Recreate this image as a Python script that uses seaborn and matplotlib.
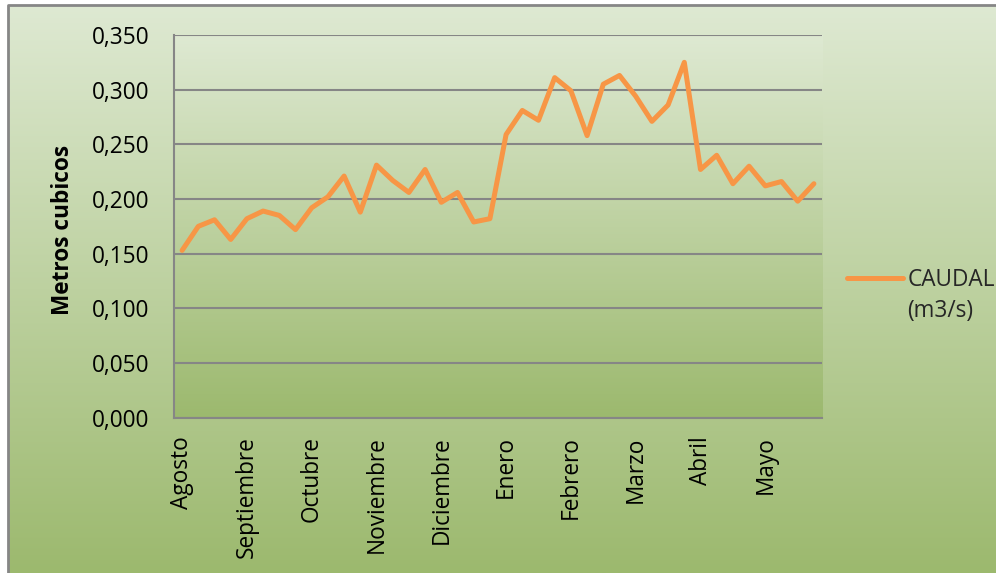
import numpy as np
import pandas as pd
import seaborn as sns
import matplotlib.pyplot as plt
from matplotlib.colors import LinearSegmentedColormap
from matplotlib.ticker import FuncFormatter

# caudal semanal (m3/s), agosto a mayo
caudal = [0.153, 0.175, 0.181, 0.163, 0.182, 0.189, 0.185, 0.172, 0.192, 0.202,
          0.221, 0.188, 0.231, 0.217, 0.206, 0.227, 0.197, 0.206, 0.179, 0.182,
          0.259, 0.281, 0.272, 0.311, 0.299, 0.258, 0.305, 0.313, 0.294, 0.271,
          0.286, 0.325, 0.227, 0.240, 0.214, 0.230, 0.212, 0.216, 0.198, 0.214]
meses = ['Agosto', 'Septiembre', 'Octubre', 'Noviembre', 'Diciembre',
         'Enero', 'Febrero', 'Marzo', 'Abril', 'Mayo']
semana = list(range(len(caudal)))
df = pd.DataFrame({'semana': semana, 'caudal': caudal})

sns.set_theme(style='white')
plt.rcParams['font.family'] = ['Open Sans', 'DejaVu Sans']
fs = 16.3

W, H = 996, 573
fig = plt.figure(figsize=(W / 100, H / 100), dpi=100)
fig.patch.set_facecolor('white')

verde = LinearSegmentedColormap.from_list('verde', ['#9cb96e', '#dee9d2'])
grad = np.linspace(0, 1, 256).reshape(-1, 1)

# fondo del grafico
bg = fig.add_axes([0, 0, 1, 1], zorder=-10)
bg.imshow(grad, cmap=verde, origin='lower', aspect='auto',
          extent=[8 / W, 1, 0, 1 - 5 / H])
bg.plot([8 / W, 8 / W, 1], [0, 1 - 5 / H, 1 - 5 / H], color='#868686', lw=2)
bg.set_xlim(0, 1)
bg.set_ylim(0, 1)
bg.axis('off')

# area de trazado
ax = fig.add_axes([174 / W, 155.3 / H, 648 / W, 382.7 / H])
ax.imshow(grad, cmap=verde, origin='lower', aspect='auto',
          extent=[-0.5, len(caudal) - 0.5, 0, 0.35], zorder=0)
sns.lineplot(data=df, x='semana', y='caudal', ax=ax, color='#f79646', lw=3.6,
             label='CAUDAL', zorder=3, solid_capstyle='round', solid_joinstyle='round')

ax.set_xlim(-0.5, len(caudal) - 0.5)
ax.set_ylim(0, 0.35)
ax.set_yticks(np.arange(0, 0.351, 0.05))
ax.yaxis.set_major_formatter(FuncFormatter(lambda v, p: f'{v:.3f}'.replace('.', ',')))
ax.set_xticks(semana[::4])
ax.set_xticklabels(meses, rotation=90, va='top', ha='center')
ax.set_axisbelow(True)
ax.yaxis.grid(True, color='#868686', lw=1.5)
ax.xaxis.grid(False)
for s in ['top', 'right']:
    ax.spines[s].set_visible(False)
for s in ['left', 'bottom']:
    ax.spines[s].set_color('#868686')
    ax.spines[s].set_linewidth(1.5)
ax.tick_params(axis='y', length=0, pad=18, labelsize=fs, labelcolor='black')
ax.tick_params(axis='x', length=0, pad=13.5, labelsize=fs, labelcolor='black')
ax.set_xlabel('')
ax.set_ylabel('Metros cubicos', fontsize=fs, fontweight='bold', color='black')
ax.yaxis.set_label_coords(-0.153, 0.49)

handles, labels = ax.get_legend_handles_labels()
ax.get_legend().remove()
fig.legend(handles, labels, loc='center left', bbox_to_anchor=(847 / W, 1 - 280 / H),
           frameon=False, fontsize=fs, borderpad=0, borderaxespad=0,
           handlelength=2.48, handletextpad=0.18)
fig.text(907 / W, 1 - 311 / H, '(m3/s)', fontsize=fs, va='center', ha='left')

fig.savefig('out.png', dpi=100)
